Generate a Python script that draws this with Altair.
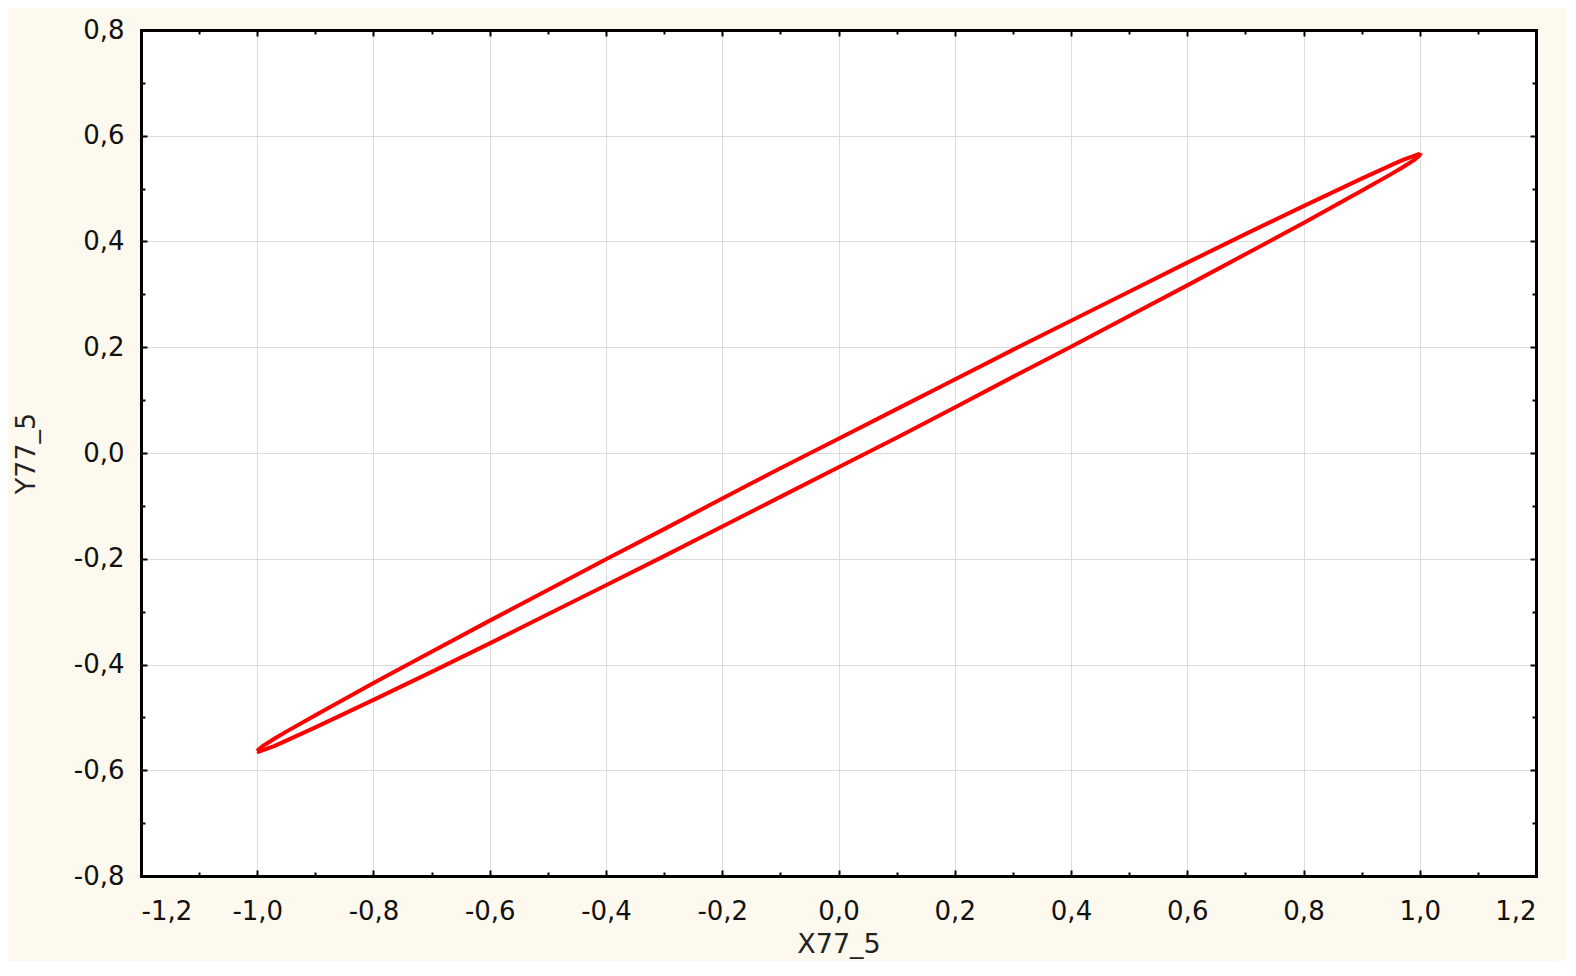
import altair as alt
import pandas as pd

# Closed curve: upper branch left->right, lower branch right->left
curve_x = [-1.0, -0.998, -0.99, -0.97, -0.95, -0.9, -0.8, -0.7, -0.6, -0.5, -0.4, -0.3, -0.2, -0.1,
           0.0, 0.1, 0.2, 0.3, 0.4, 0.5, 0.6, 0.7, 0.8, 0.9, 0.95, 0.97, 0.99, 0.998, 1.0,
           0.998, 0.99, 0.97, 0.95, 0.9, 0.8, 0.7, 0.6, 0.5, 0.4, 0.3, 0.2, 0.1,
           0.0, -0.1, -0.2, -0.3, -0.4, -0.5, -0.6, -0.7, -0.8, -0.9, -0.95, -0.97, -0.99, -0.998, -1.0]
curve_y = [-0.564, -0.561, -0.554, -0.540, -0.527, -0.496, -0.435, -0.376, -0.317, -0.259, -0.201, -0.144, -0.086, -0.029,
           0.027, 0.083, 0.139, 0.195, 0.250, 0.305, 0.360, 0.414, 0.467, 0.519, 0.544, 0.554, 0.562, 0.565, 0.564,
           0.561, 0.554, 0.540, 0.527, 0.496, 0.435, 0.376, 0.317, 0.259, 0.201, 0.144, 0.086, 0.029,
           -0.027, -0.083, -0.139, -0.195, -0.250, -0.305, -0.360, -0.414, -0.467, -0.519, -0.544, -0.554, -0.562, -0.565, -0.564]

x_major = [-1.2, -1.0, -0.8, -0.6, -0.4, -0.2, 0.0, 0.2, 0.4, 0.6, 0.8, 1.0, 1.2]
x_minor = [-1.1, -0.9, -0.7, -0.5, -0.3, -0.1, 0.1, 0.3, 0.5, 0.7, 0.9, 1.1]
y_major = [-0.8, -0.6, -0.4, -0.2, 0.0, 0.2, 0.4, 0.6, 0.8]
y_minor = [-0.7, -0.5, -0.3, -0.1, 0.1, 0.3, 0.5, 0.7]

df = pd.DataFrame({"x": curve_x, "y": curve_y, "i": list(range(len(curve_x)))})

W, H = 1395, 846
FONT = "DejaVu Sans"
xs = alt.Scale(domain=[-1.2, 1.2], nice=False, zero=False)
ys = alt.Scale(domain=[-0.8, 0.8], nice=False, zero=False)
lab = "(datum.value < -0.0001 ? '-' : '') + replace(format(abs(datum.value), '.1f'), '.', ',')"

base = alt.Chart(df)

main = base.mark_line(color="#ff0000", strokeWidth=4).encode(
    x=alt.X("x:Q", scale=xs, axis=alt.Axis(
        orient="bottom", title="X77_5", values=x_major, labelExpr=lab, grid=True,
        gridColor="#dcdcdc", gridWidth=1, ticks=False, tickSize=0, domain=False,
        labelPadding=22, labelFont=FONT, labelFontSize=26, labelColor="#111111",
        titleFont=FONT, titleFontSize=27, titleFontWeight="normal", titleColor="#222222",
        titleX=W / 2, titleY=76, titleBaseline="alphabetic", titleAlign="center")),
    y=alt.Y("y:Q", scale=ys, axis=alt.Axis(
        orient="left", title="Y77_5", values=y_major, labelExpr=lab, grid=True,
        gridColor="#dcdcdc", gridWidth=1, ticks=False, tickSize=0, domain=False,
        labelPadding=17, labelFont=FONT, labelFontSize=26, labelColor="#111111",
        titleFont=FONT, titleFontSize=27, titleFontWeight="normal", titleColor="#222222",
        titleX=-107, titleY=H / 2, titleBaseline="alphabetic", titleAlign="center")),
    order=alt.Order("i:Q"),
)


def tick_layer(xorient, xoff, xvals, yorient, yoff, yvals, size, dom):
    return base.mark_line(opacity=0).encode(
        x=alt.X("x:Q", scale=xs, axis=alt.Axis(
            orient=xorient, offset=xoff, values=xvals, labels=False, grid=False,
            domain=dom, domainColor="black", domainWidth=3, domainCap="square",
            ticks=True, tickSize=size, tickWidth=2, tickColor="black", title=None)),
        y=alt.Y("y:Q", scale=ys, axis=alt.Axis(
            orient=yorient, offset=yoff, values=yvals, labels=False, grid=False,
            domain=dom, domainColor="black", domainWidth=3, domainCap="square",
            ticks=True, tickSize=size, tickWidth=2, tickColor="black", title=None)),
        order=alt.Order("i:Q"),
    )


# ticks pointing inward on all four edges
t1 = tick_layer("bottom", -H, x_major, "right", -W, y_major, 6, True)
t2 = tick_layer("bottom", -H, x_minor, "right", -W, y_minor, 4, False)
t3 = tick_layer("top", -H, x_major, "left", -W, y_major, 6, True)
t4 = tick_layer("top", -H, x_minor, "left", -W, y_minor, 4, False)

chart = alt.layer(main, t1, t2, t3, t4).resolve_axis(
    x="independent", y="independent"
).properties(
    width=W, height=H,
    autosize=alt.AutoSizeParams(type="none"),
    padding={"left": 133, "top": 22, "right": 30, "bottom": 85},
    background="#fdf9ee",
).configure_view(stroke=None, fill="white")

chart.save("out.html", embed_options={"renderer": "svg", "actions": False})
